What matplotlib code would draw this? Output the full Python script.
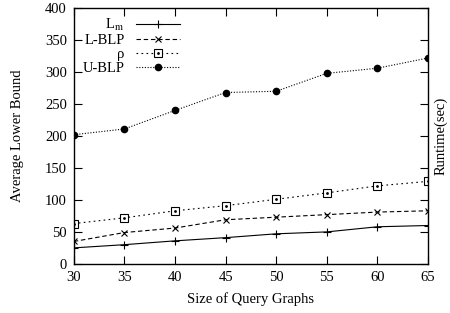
import matplotlib.pyplot as plt
from matplotlib.legend_handler import HandlerTuple

plt.rcParams['font.family'] = ['Liberation Serif', 'DejaVu Serif']
plt.rcParams['mathtext.fontset'] = 'stix'

sizes = [30, 35, 40, 45, 50, 55, 60, 65]
lm = [25, 30, 36, 41, 47, 50, 58, 60]
l_blp = [35, 49, 56, 69, 73, 77, 81, 83]
rho = [63, 72, 83, 91, 101, 111, 122, 129]
u_blp = [202, 211, 240, 268, 270, 298, 306, 322]
y_ticks = [0, 50, 100, 150, 200, 250, 300, 350, 400]

fig = plt.figure(figsize=(4.5, 3.13), dpi=100)
ax = fig.add_axes([0.164, 0.157, 0.787, 0.817])

lw = 0.8
h1, = ax.plot(sizes, lm, color='black', lw=lw, ls='-', marker='+', ms=6, mew=0.8)
h2, = ax.plot(sizes, l_blp, color='black', lw=lw, ls=(0, (4, 2.5)), marker='x', ms=5, mew=0.8)
h3, = ax.plot(sizes, rho, color='black', lw=lw, ls=(0, (1.5, 3)), marker='s', ms=6,
              mfc='white', mew=0.8)
h3d, = ax.plot(sizes, rho, color='black', ls='none', marker='.', ms=2)
h4, = ax.plot(sizes, u_blp, color='black', lw=lw, ls=(0, (1, 1.5)), marker='o', ms=4.5)

ax.set_xlim(30, 65)
ax.set_ylim(0, 400)
ax.set_xticks(sizes)
ax.set_yticks(y_ticks)
ax.tick_params(direction='in', length=6, width=0.8, top=True, right=True, labelsize=10.5, pad=5)
for s in ax.spines.values():
    s.set_linewidth(1.0)

ax.set_xlabel('Size of Query Graphs', fontsize=10.5, labelpad=6)
ax.set_ylabel('Average Lower Bound', fontsize=10.5, labelpad=15)
ax.text(1.018, 0.5, 'Runtime(sec)', transform=ax.transAxes, rotation=90,
        ha='left', va='center', fontsize=10.5)

ax.legend([h1, h2, (h3, h3d), h4], ['L$_{\\mathrm{m}}$', 'L-BLP', 'ρ', 'U-BLP'],
          handler_map={tuple: HandlerTuple(ndivide=1)},
          loc='upper left', bbox_to_anchor=(0.0, 1.0), frameon=False, markerfirst=False,
          handlelength=3.0, handletextpad=0.8, labelspacing=0.05, fontsize=10.5,
          borderaxespad=0.2)

fig.savefig('out.png', dpi=100)
